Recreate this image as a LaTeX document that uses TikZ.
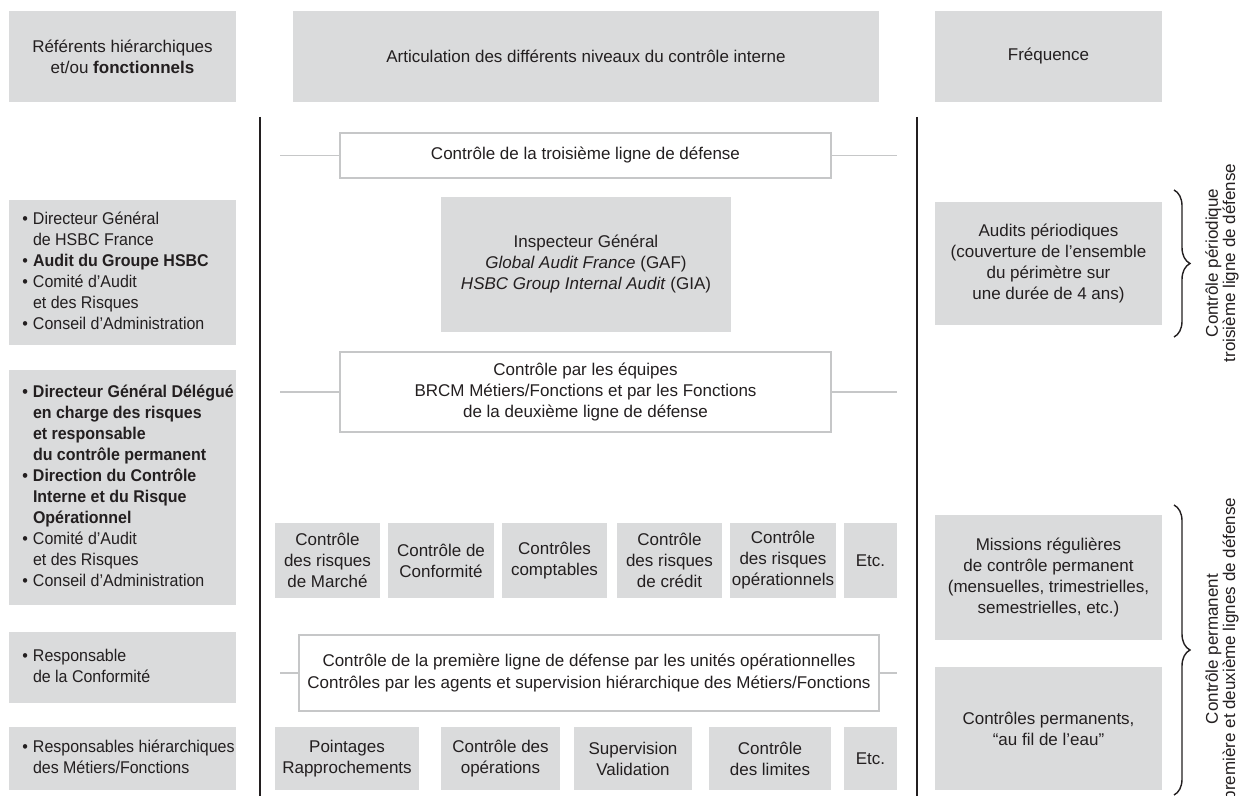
\documentclass[tikz,border=0pt]{standalone}
\usepackage{fontspec}
\setmainfont{Liberation Sans}
\newfontfamily\narrowfont[FakeStretch=0.94]{Liberation Sans}
\usetikzlibrary{decorations.pathreplacing}
\definecolor{boxgray}{RGB}{218,219,220}
\definecolor{linegray}{RGB}{198,199,200}
\definecolor{ink}{RGB}{35,31,32}
\newcommand{\blt}{\llap{\textbullet\hspace{2.5pt}}}
\newcommand{\lbox}[1]{\makebox[89.5pt][l]{\begin{tabular}{@{}l@{}}#1\end{tabular}}}
\begin{document}
\begin{tikzpicture}[x=0.5pt,y=-0.5pt,
  every node/.style={font=\fontsize{8.5pt}{10.5pt}\selectfont, text=ink, inner sep=0pt, align=center},
  graybox/.style={fill=boxgray, draw=none},
  whitebox/.style={fill=white, draw=linegray, line width=0.7pt},
  leftbox/.style={graybox, inner xsep=12pt, inner ysep=0pt, font=\narrowfont\fontsize{8.5pt}{10.5pt}\selectfont},
  sidelabel/.style={rotate=90, font=\fontsize{8.5pt}{8.6pt}\selectfont},
  gline/.style={draw=linegray, line width=0.8pt},
  vline/.style={draw=ink, line width=0.8pt},
  brc/.style={draw=ink, line width=0.7pt, decorate, decoration={brace, amplitude=8pt}}]
\fill[white] (0,0) rectangle (1241,796);
\useasboundingbox (0,0) rectangle (1241,796);

% headers
\node[graybox, minimum width=113.5pt, minimum height=45.5pt] (hL) at (122.5,56.5) {Référents hiérarchiques\\et/ou \textbf{fonctionnels}};
\node[graybox, minimum width=293pt, minimum height=45.5pt] (hM) at (586,56.5) {Articulation des différents niveaux du contrôle interne};
\node[graybox, minimum width=113.5pt, minimum height=45.5pt] (hR) at (1048.5,56.5) {Fréquence};

% vertical lines
\coordinate (vLt) at (260,117); \coordinate (vLb) at (260,796);
\coordinate (vRt) at (917,117); \coordinate (vRb) at (917,796);
\draw[vline] (vLt) -- (vLb);
\draw[vline] (vRt) -- (vRb);

% third line of defense
\coordinate (g3l) at (280,155.5); \coordinate (g3r) at (897,155.5);
\node[whitebox, minimum width=245.5pt, minimum height=22.5pt] (t3) at (585.5,155.5) {Contrôle de la troisième ligne de défense};
\draw[gline] (g3l) -- (t3.west);
\draw[gline] (t3.east) -- (g3r);

\node[graybox, minimum width=145pt, minimum height=67.5pt] (insp) at (586,264.5) {Inspecteur Général\\\textit{Global Audit France} (GAF)\\\textit{HSBC Group Internal Audit} (GIA)};

% second line of defense
\coordinate (g2l) at (280,392); \coordinate (g2r) at (897,392);
\node[whitebox, minimum width=245.5pt, minimum height=40pt] (t2) at (585.5,392) {Contrôle par les équipes\\BRCM Métiers/Fonctions et par les Fonctions\\de la deuxième ligne de défense};
\draw[gline] (g2l) -- (t2.west);
\draw[gline] (t2.east) -- (g2r);

% row 1
\node[graybox, minimum width=52.5pt, minimum height=37.5pt] (r1a) at (327.5,560.5) {Contrôle\\des risques\\de Marché};
\node[graybox, minimum width=53pt, minimum height=37.5pt] (r1b) at (441,560.5) {Contrôle de\\Conformité};
\node[graybox, minimum width=52.5pt, minimum height=37.5pt] (r1c) at (554.5,560.5) {Contrôles\\comptables};
\node[graybox, minimum width=52.5pt, minimum height=37.5pt] (r1d) at (669.5,560.5) {Contrôle\\des risques\\de crédit};
\node[graybox, minimum width=53pt, minimum height=37.5pt] (r1e) at (783,560.5) {Contrôle\\des risques\\opérationnels};
\node[graybox, minimum width=26.5pt, minimum height=37.5pt] (r1f) at (870.5,560.5) {Etc.};

% first line of defense
\coordinate (g1l) at (280,673); \coordinate (g1r) at (897,673);
\node[whitebox, minimum width=290pt, minimum height=38pt] (t1) at (589,673) {Contrôle de la première ligne de défense par les unités opérationnelles\\Contrôles par les agents et supervision hiérarchique des Métiers/Fonctions};
\draw[gline] (g1l) -- (t1.west);
\draw[gline] (t1.east) -- (g1r);

% row 2
\node[graybox, minimum width=72pt, minimum height=31.5pt] (r2a) at (347,758.5) {Pointages\\Rapprochements};
\node[graybox, minimum width=59.5pt, minimum height=31.5pt] (r2b) at (500.5,758.5) {Contrôle des\\opérations};
\node[graybox, minimum width=59pt, minimum height=31.5pt] (r2c) at (633,758.5) {Supervision\\Validation};
\node[graybox, minimum width=61pt, minimum height=31.5pt] (r2d) at (770,758.5) {Contrôle\\des limites};
\node[graybox, minimum width=26.5pt, minimum height=31.5pt] (r2e) at (870.5,758.5) {Etc.};

% left column
\node[leftbox, minimum height=72.5pt] (L1) at (122.5,272.5) {\lbox{\blt Directeur Général\\ de HSBC France\\ \blt\textbf{Audit du Groupe HSBC}\\ \blt Comité d’Audit\\ et des Risques\\ \blt Conseil d’Administration}};
\node[leftbox, minimum height=117.5pt] (L2) at (122.5,487.5) {\lbox{\textbf{\blt Directeur Général Délégué}\\ \textbf{en charge des risques}\\ \textbf{et responsable}\\ \textbf{du contrôle permanent}\\ \textbf{\blt Direction du Contrôle}\\ \textbf{Interne et du Risque}\\ \textbf{Opérationnel}\\ \blt Comité d’Audit\\ et des Risques\\ \blt Conseil d’Administration}};
\node[leftbox, minimum height=35.5pt] (L3) at (122.5,667.5) {\lbox{\blt Responsable\\ de la Conformité}};
\node[leftbox, minimum height=31.5pt] (L4) at (122.5,758.5) {\lbox{\blt Responsables hiérarchiques\\ des Métiers/Fonctions}};

% right column
\node[graybox, minimum width=113.5pt, minimum height=61.5pt] (R1) at (1048.5,263.5) {Audits périodiques\\(couverture de l’ensemble\\du périmètre sur\\une durée de 4 ans)};
\node[graybox, minimum width=113.5pt, minimum height=62.5pt] (R2) at (1048.5,577.5) {Missions régulières\\de contrôle permanent\\(mensuelles, trimestrielles,\\semestrielles, etc.)};
\node[graybox, minimum width=113.5pt, minimum height=61.5pt] (R3) at (1048.5,728.5) {Contrôles permanents,\\“au fil de l’eau”};

% braces
\coordinate (b1t) at (1174,190); \coordinate (b1b) at (1174,337);
\coordinate (b2t) at (1174,505); \coordinate (b2b) at (1174,795);
\draw[brc] (b1t) -- (b1b);
\draw[brc] (b2t) -- (b2b);
\node[sidelabel] (p1) at (1222,263) {Contrôle périodique\\troisième ligne de défense};
\node[sidelabel] (p2) at (1222,649) {Contrôle permanent\\première et deuxième lignes de défense};
\end{tikzpicture}
\end{document}
